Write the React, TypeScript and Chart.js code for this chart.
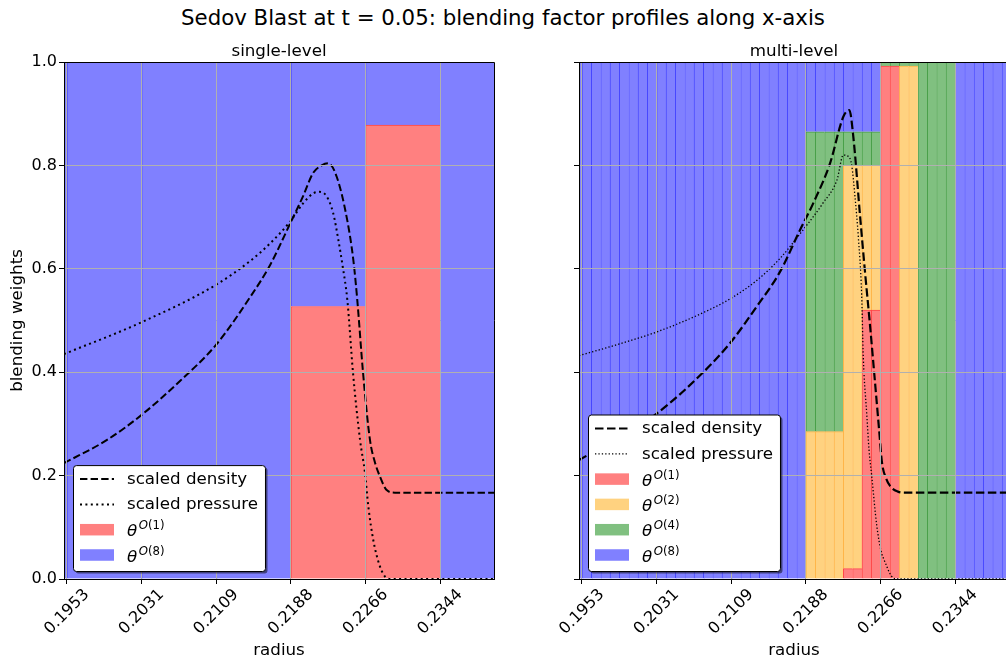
import React, { useEffect, useRef } from 'react';
import { Chart, registerables } from 'chart.js';

Chart.register(...registerables);

const FONT = "'DejaVu Sans', 'Liberation Sans', Arial, sans-serif";

// ---------------- texts & ticks ----------------
const figureTitle = 'Sedov Blast at t = 0.05: blending factor profiles along x-axis';
const panelTitles = ['single-level', 'multi-level'];
const xAxisTitle = 'radius';
const yAxisTitle = 'blending weights';
const xRange = [0.195, 0.24];
const xTickValues = [0.1953125, 0.203125, 0.2109375, 0.21875, 0.2265625, 0.234375];
const xTickLabels = ['0.1953', '0.2031', '0.2109', '0.2188', '0.2266', '0.2344'];
const yTickValues = [0, 0.2, 0.4, 0.6, 0.8, 1.0];
const yTickLabels = ['0.0', '0.2', '0.4', '0.6', '0.8', '1.0'];
const densityLabel = 'scaled density';
const pressureLabel = 'scaled pressure';
const thetaLabels = ['θ^{O(1)}', 'θ^{O(2)}', 'θ^{O(4)}', 'θ^{O(8)}'];

// ---------------- single-level data ----------------
const singleCellRadius = [0.19140625, 0.19921875, 0.20703125, 0.21484375, 0.22265625, 0.23046875, 0.23828125];
const singleTheta1 = [0, 0, 0, 0, 0.527, 0.878, 0];
const singleTheta8 = [1, 1, 1, 1, 0.473, 0.122, 1];

const singleDensityRadius = [0.195, 0.1995, 0.20316, 0.20714, 0.21091, 0.21447, 0.21656, 0.21883, 0.22001, 0.22106, 0.22197, 0.22266, 0.22354, 0.22458, 0.22528, 0.22569, 0.22629, 0.22702, 0.22755, 0.22807, 0.22877, 0.22964, 0.24];
const singleDensity = [0.224, 0.269, 0.318, 0.383, 0.453, 0.545, 0.607, 0.694, 0.74, 0.785, 0.8, 0.804, 0.778, 0.7, 0.617, 0.54, 0.4, 0.269, 0.225, 0.198, 0.172, 0.167, 0.167];

const singlePressureRadius = [0.195, 0.20316, 0.21091, 0.21447, 0.21656, 0.21865, 0.22004, 0.22109, 0.22172, 0.22249, 0.22318, 0.22371, 0.22417, 0.22465, 0.22524, 0.22598, 0.2265, 0.22685, 0.22737, 0.22807, 0.22877, 0.22933, 0.24];
const singlePressure = [0.435, 0.497, 0.569, 0.615, 0.649, 0.691, 0.727, 0.746, 0.749, 0.74, 0.707, 0.656, 0.604, 0.54, 0.4, 0.269, 0.205, 0.14, 0.075, 0.024, 0.002, 0, 0];

// ---------------- multi-level data ----------------
const multiCellRadius = [
  0.194824219, 0.195800781, 0.196777344, 0.197753906, 0.198730469, 0.199707031, 0.200683594, 0.201660156,
  0.202636719, 0.203613281, 0.204589844, 0.205566406, 0.206542969, 0.207519531, 0.208496094, 0.209472656,
  0.210449219, 0.211425781, 0.212402344, 0.213378906, 0.214355469, 0.215332031, 0.216308594, 0.217285156,
  0.218261719, 0.219238281, 0.220214844, 0.221191406, 0.222167969, 0.223144531, 0.224121094, 0.225097656,
  0.226074219, 0.227050781, 0.228027344, 0.229003906, 0.229980469, 0.230957031, 0.231933594, 0.232910156,
  0.233886719, 0.234863281, 0.235839844, 0.236816406, 0.237792969, 0.238769531, 0.239746094,
];
const multiTheta1 = [
  0, 0, 0, 0, 0, 0, 0, 0, 0, 0,
  0, 0, 0, 0, 0, 0, 0, 0, 0, 0,
  0, 0, 0, 0, 0, 0, 0, 0, 0,
  0.02, 0.02, 0.52, 0.52, 0.992, 0.992,
  0, 0, 0, 0, 0, 0, 0, 0, 0, 0, 0, 0,
];
const multiTheta2 = [
  0, 0, 0, 0, 0, 0, 0, 0, 0, 0,
  0, 0, 0, 0, 0, 0, 0, 0, 0, 0,
  0, 0, 0, 0, 0,
  0.285, 0.285, 0.285, 0.285,
  0.78, 0.78, 0.28, 0.28, 0, 0, 0.992, 0.992,
  0, 0, 0, 0, 0, 0, 0, 0, 0, 0,
];
const multiTheta4 = [
  0, 0, 0, 0, 0, 0, 0, 0, 0, 0,
  0, 0, 0, 0, 0, 0, 0, 0, 0, 0,
  0, 0, 0, 0, 0,
  0.58, 0.58, 0.58, 0.58,
  0.065, 0.065, 0.065, 0.065,
  0.008, 0.008, 0.008, 0.008,
  1, 1, 1, 1,
  0, 0, 0, 0, 0, 0,
];
const multiTheta8 = [
  1, 1, 1, 1, 1, 1, 1, 1, 1, 1,
  1, 1, 1, 1, 1, 1, 1, 1, 1, 1,
  1, 1, 1, 1, 1,
  0.135, 0.135, 0.135, 0.135, 0.135, 0.135, 0.135, 0.135,
  0, 0, 0, 0, 0, 0, 0, 0,
  1, 1, 1, 1, 1, 1,
];

const multiDensityRadius = [0.195, 0.19898, 0.20313, 0.20801, 0.2108, 0.2136, 0.21603, 0.21813, 0.21952, 0.22127, 0.22266, 0.22329, 0.22371, 0.22441, 0.22493, 0.22546, 0.22598, 0.2264, 0.22671, 0.22713, 0.22755, 0.22838, 0.22912, 0.24];
const multiDensity = [0.23, 0.272, 0.32, 0.4, 0.456, 0.527, 0.594, 0.675, 0.727, 0.804, 0.894, 0.907, 0.855, 0.703, 0.594, 0.49, 0.38, 0.29, 0.225, 0.195, 0.18, 0.169, 0.167, 0.167];

const multiPressureRadius = [0.195, 0.19929, 0.20316, 0.20798, 0.21091, 0.21363, 0.21603, 0.21844, 0.22053, 0.222, 0.22266, 0.22315, 0.22354, 0.22388, 0.22423, 0.22458, 0.22475, 0.22511, 0.22535, 0.22563, 0.22615, 0.2266, 0.22702, 0.22772, 0.22828, 0.24];
const multiPressure = [0.432, 0.455, 0.478, 0.515, 0.543, 0.578, 0.62, 0.675, 0.727, 0.772, 0.82, 0.818, 0.8, 0.74, 0.662, 0.55, 0.43, 0.32, 0.25, 0.2, 0.105, 0.055, 0.033, 0.005, 0, 0];

// ---------------- styles ----------------
const GRID = '#b0b0b0';
const TEXT_PX = 16.7;
const TICK_PX = 16;
const THETA_STYLE = [
  { face: 'rgb(255,128,128)', edge: 'rgb(255,70,70)' },
  { face: 'rgb(255,210,128)', edge: 'rgb(255,180,70)' },
  { face: 'rgb(128,192,128)', edge: 'rgb(70,158,70)' },
  { face: 'rgb(128,128,255)', edge: 'rgb(70,70,255)' },
];

function barSet(label: string, radius: number[], values: number[], style: any) {
  return {
    type: 'bar',
    label,
    data: radius.map((x, i) => ({ x, y: values[i] })),
    backgroundColor: style.face,
    borderColor: style.edge,
    borderWidth: { left: 1, top: 1, right: 0, bottom: 0 },
    borderSkipped: false,
    barPercentage: 1,
    categoryPercentage: 1,
    stack: 'theta',
    order: 1,
  };
}

function lineSet(label: string, radius: number[], values: number[], width: number, dash: number[], stack: string) {
  return {
    type: 'line',
    label,
    data: radius.map((x, i) => ({ x, y: values[i] })),
    borderColor: '#000',
    borderWidth: width,
    borderDash: dash,
    borderCapStyle: 'butt',
    pointRadius: 0,
    fill: false,
    cubicInterpolationMode: 'monotone',
    stack,
    order: 0,
  };
}

// ---------------- plugins ----------------
const frameAndLabels = {
  id: 'frameAndLabels',
  afterDraw(chart: any, _args: any, pluginOpts: any) {
    const { ctx, chartArea: ca } = chart;
    const xs = chart.scales.x;
    ctx.save();
    ctx.strokeStyle = '#000';
    ctx.lineWidth = 1;
    const top = Math.round(ca.top - 0.5) + 0.5;
    const right = Math.round(ca.right - 0.5) + 0.5;
    ctx.beginPath();
    ctx.moveTo(ca.left, top);
    ctx.lineTo(right, top);
    ctx.lineTo(right, ca.bottom);
    ctx.stroke();
    ctx.fillStyle = '#000';
    ctx.font = `${TEXT_PX}px ${FONT}`;
    ctx.textAlign = 'center';
    ctx.textBaseline = 'alphabetic';
    ctx.fillText(pluginOpts.title, (ca.left + ca.right) / 2, ca.top - 6);
    ctx.font = `${TICK_PX}px ${FONT}`;
    ctx.textBaseline = 'middle';
    xTickValues.forEach((v, i) => {
      const px = xs.getPixelForValue(v);
      ctx.save();
      ctx.translate(px, ca.bottom + 33);
      ctx.rotate(-Math.PI / 4);
      ctx.fillText(xTickLabels[i], 0, 0);
      ctx.restore();
    });
    ctx.restore();
  },
};

const SUP_PX = TEXT_PX * 0.7;

function measureLabel(ctx: any, label: string) {
  const m = label.match(/^(.*)\^\{(.)(.*)\}$/);
  if (!m) {
    ctx.font = `${TEXT_PX}px ${FONT}`;
    return ctx.measureText(label).width;
  }
  ctx.font = `italic ${TEXT_PX}px ${FONT}`;
  let w = ctx.measureText(m[1]).width + 1.5;
  ctx.font = `italic ${SUP_PX}px ${FONT}`;
  w += ctx.measureText(m[2]).width;
  ctx.font = `${SUP_PX}px ${FONT}`;
  w += ctx.measureText(m[3]).width;
  return w;
}

function drawLabel(ctx: any, label: string, x: number, cy: number) {
  const m = label.match(/^(.*)\^\{(.)(.*)\}$/);
  ctx.textAlign = 'left';
  ctx.textBaseline = 'alphabetic';
  ctx.fillStyle = '#000';
  if (!m) {
    ctx.font = `${TEXT_PX}px ${FONT}`;
    ctx.fillText(label, x, cy + 4.8);
    return;
  }
  ctx.font = `italic ${TEXT_PX}px ${FONT}`;
  ctx.fillText(m[1], x, cy + 6.5);
  let sx = x + ctx.measureText(m[1]).width + 1.5;
  const sy = cy - 0.5;
  ctx.font = `italic ${SUP_PX}px ${FONT}`;
  ctx.fillText(m[2], sx, sy);
  sx += ctx.measureText(m[2]).width;
  ctx.font = `${SUP_PX}px ${FONT}`;
  ctx.fillText(m[3], sx, sy);
}

function roundRectPath(ctx: any, x: number, y: number, w: number, h: number, r: number) {
  ctx.beginPath();
  ctx.moveTo(x + r, y);
  ctx.lineTo(x + w - r, y);
  ctx.arcTo(x + w, y, x + w, y + r, r);
  ctx.lineTo(x + w, y + h - r);
  ctx.arcTo(x + w, y + h, x + w - r, y + h, r);
  ctx.lineTo(x + r, y + h);
  ctx.arcTo(x, y + h, x, y + h - r, r);
  ctx.lineTo(x, y + r);
  ctx.arcTo(x, y, x + r, y, r);
  ctx.closePath();
}

const insetLegend = {
  id: 'insetLegend',
  afterDraw(chart: any) {
    const { ctx, chartArea: ca } = chart;
    const items = chart.data.datasets;
    const n = items.length;
    const rowH = 25.3;
    ctx.save();
    const textW = Math.max(...items.map((d: any) => measureLabel(ctx, d.label)));
    const w = 54 + textW + 7;
    const bottom = ca.bottom - 8;
    const lastCy = bottom - 16;
    const firstCy = lastCy - (n - 1) * rowH;
    const top = firstCy - 14;
    const h = bottom - top;
    const left = ca.left + 9;
    roundRectPath(ctx, left + 2.5, top + 2.5, w, h, 3);
    ctx.fillStyle = 'rgba(0,0,0,0.5)';
    ctx.fill();
    roundRectPath(ctx, left + 0.5, top + 0.5, w, h, 3);
    ctx.fillStyle = '#fff';
    ctx.fill();
    ctx.strokeStyle = '#000';
    ctx.lineWidth = 1;
    ctx.stroke();
    items.forEach((d: any, i: number) => {
      const cy = firstCy + i * rowH;
      if (d.type === 'line') {
        ctx.save();
        ctx.strokeStyle = d.borderColor;
        ctx.lineWidth = d.borderWidth;
        ctx.setLineDash(d.borderDash || []);
        ctx.lineCap = 'butt';
        ctx.beginPath();
        ctx.moveTo(left + 7, cy);
        ctx.lineTo(left + 41, cy);
        ctx.stroke();
        ctx.restore();
      } else {
        ctx.fillStyle = d.backgroundColor;
        ctx.fillRect(left + 7, cy - 5.75, 34, 11.5);
      }
      drawLabel(ctx, d.label, left + 54, cy);
    });
    ctx.restore();
  },
};

// ---------------- config ----------------
function makeConfig(opts: { title: string; yWidth: number; padRight: number; showY: boolean; datasets: any[] }) {
  const textFont = { family: FONT, size: TEXT_PX, weight: 'normal' };
  const tickFont = { family: FONT, size: TICK_PX, weight: 'normal' };
  return {
    type: 'bar',
    data: { datasets: opts.datasets },
    plugins: [frameAndLabels, insetLegend],
    options: {
      animation: false,
      responsive: false,
      maintainAspectRatio: false,
      devicePixelRatio: 1,
      events: [],
      layout: { padding: { left: 0, right: opts.padRight, top: 62, bottom: 0 } },
      plugins: {
        legend: { display: false },
        tooltip: { enabled: false },
        title: { display: false },
        frameAndLabels: { title: opts.title },
      },
      scales: {
        x: {
          type: 'linear',
          min: xRange[0],
          max: xRange[1],
          offset: false,
          stacked: true,
          grid: { color: GRID, lineWidth: 1, offset: false, tickColor: '#000', tickLength: 5, tickWidth: 1, z: 1 },
          border: { display: true, color: '#000', width: 1, z: 2 },
          ticks: { display: false },
          afterBuildTicks: (s: any) => {
            s.ticks = xTickValues.map((value) => ({ value }));
          },
          afterFit: (s: any) => {
            s.height = 85;
          },
          title: { display: true, text: xAxisTitle, color: '#000', font: textFont, padding: { top: 0, bottom: 3.1 } },
        },
        y: {
          type: 'linear',
          min: 0,
          max: 1,
          stacked: true,
          grid: { color: GRID, lineWidth: 1, tickColor: '#000', tickLength: 5, tickWidth: 1, z: 1 },
          border: { display: true, color: '#000', width: 1, z: 2 },
          ticks: {
            display: opts.showY,
            color: '#000',
            font: tickFont,
            padding: 2,
            z: 2,
            callback: (_v: any, i: number) => yTickLabels[i],
          },
          afterBuildTicks: (s: any) => {
            s.ticks = yTickValues.map((value) => ({ value }));
          },
          afterFit: (s: any) => {
            s.width = opts.yWidth;
          },
          title: { display: opts.showY, text: yAxisTitle, color: '#000', font: textFont, padding: { top: 8, bottom: 0 } },
        },
      },
    },
  };
}

export default function App() {
  const leftRef = useRef<HTMLCanvasElement>(null);
  const rightRef = useRef<HTMLCanvasElement>(null);

  useEffect(() => {
    const singleSets = [
      lineSet(densityLabel, singleDensityRadius, singleDensity, 2, [7.4, 3.2], 'density'),
      lineSet(pressureLabel, singlePressureRadius, singlePressure, 2, [2, 3.4], 'pressure'),
      barSet(thetaLabels[0], singleCellRadius, singleTheta1, THETA_STYLE[0]),
      barSet(thetaLabels[3], singleCellRadius, singleTheta8, THETA_STYLE[3]),
    ];
    const multiSets = [
      lineSet(densityLabel, multiDensityRadius, multiDensity, 2.2, [8.5, 3.5], 'density'),
      lineSet(pressureLabel, multiPressureRadius, multiPressure, 1.3, [1.3, 2.1], 'pressure'),
      barSet(thetaLabels[0], multiCellRadius, multiTheta1, THETA_STYLE[0]),
      barSet(thetaLabels[1], multiCellRadius, multiTheta2, THETA_STYLE[1]),
      barSet(thetaLabels[2], multiCellRadius, multiTheta4, THETA_STYLE[2]),
      barSet(thetaLabels[3], multiCellRadius, multiTheta8, THETA_STYLE[3]),
    ];
    const charts = [
      new Chart(leftRef.current as any, makeConfig({ title: panelTitles[0], yWidth: 64, padRight: 36, showY: true, datasets: singleSets }) as any),
      new Chart(rightRef.current as any, makeConfig({ title: panelTitles[1], yWidth: 49, padRight: 11, showY: false, datasets: multiSets }) as any),
    ];
    return () => charts.forEach((c) => c.destroy());
  }, []);

  return (
    <div
      style={{
        position: 'fixed',
        left: 0,
        top: 0,
        width: 1006,
        height: 664,
        overflow: 'hidden',
        background: '#fff',
        fontFamily: FONT,
      }}
    >
      <div
        style={{
          position: 'absolute',
          left: 0,
          top: 6.5,
          width: 1006,
          textAlign: 'center',
          fontSize: 21.3,
          lineHeight: '22px',
          color: '#000',
          whiteSpace: 'nowrap',
        }}
      >
        {figureTitle}
      </div>
      <canvas ref={leftRef} width={530} height={664} style={{ position: 'absolute', left: 0, top: 0, width: 530, height: 664 }} />
      <canvas ref={rightRef} width={490} height={664} style={{ position: 'absolute', left: 530, top: 0, width: 490, height: 664 }} />
    </div>
  );
}
